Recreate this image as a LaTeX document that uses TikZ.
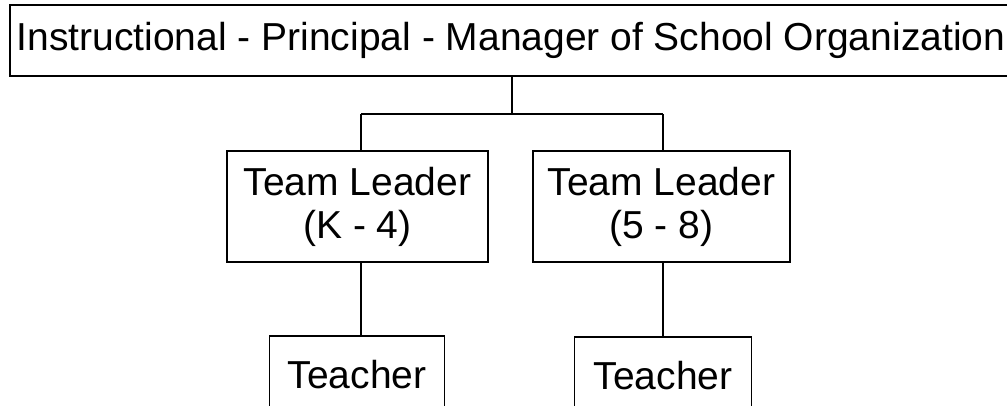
\documentclass[tikz,border=0pt]{standalone}
\usepackage{fontspec}
\setmainfont{Liberation Sans}
\begin{document}
\begin{tikzpicture}[x=1pt,y=1pt,
  box/.style={draw=black,line width=1.6pt,rectangle,inner sep=0pt,
    font=\fontsize{39}{43}\selectfont,align=center},
  conn/.style={draw=black,line width=2.6pt}]
\useasboundingbox (0,0) rectangle (1007,-405);
\clip (0,0) rectangle (1007,-405);
\fill[white] (0,0) rectangle (1007,-405);
% top
\node[box,minimum width=1002pt,minimum height=71pt] (top) at (511,-40.5)
  {Instructional - Principal - Manager of School Organization};
% team leaders
\node[box,minimum width=261pt,minimum height=111pt] (tl1) at (357.5,-206.5)
  {Team Leader\\(K - 4)};
\node[box,minimum width=257pt,minimum height=111pt] (tl2) at (661.5,-206.5)
  {Team Leader\\(5 - 8)};
% teachers
\node[box,minimum width=175pt,minimum height=78pt] (t1) at (357,-375) {Teacher};
\node[box,minimum width=177pt,minimum height=78pt] (t2) at (663,-376) {Teacher};
% junctions
\coordinate (jm) at (512,-114);
\coordinate (jl) at (361,-114);
\coordinate (jr) at (663,-114);
\draw[conn] (top.south -| jm) -- (jm);
\draw[conn] (jl) -- (jr);
\draw[conn] (jl) -- (jl |- tl1.north);
\draw[conn] (jr) -- (jr |- tl2.north);
\draw[conn] (tl1.south -| jl) -- (t1.north -| jl);
\draw[conn] (tl2.south -| jr) -- (t2.north -| jr);
\end{tikzpicture}
\end{document}
